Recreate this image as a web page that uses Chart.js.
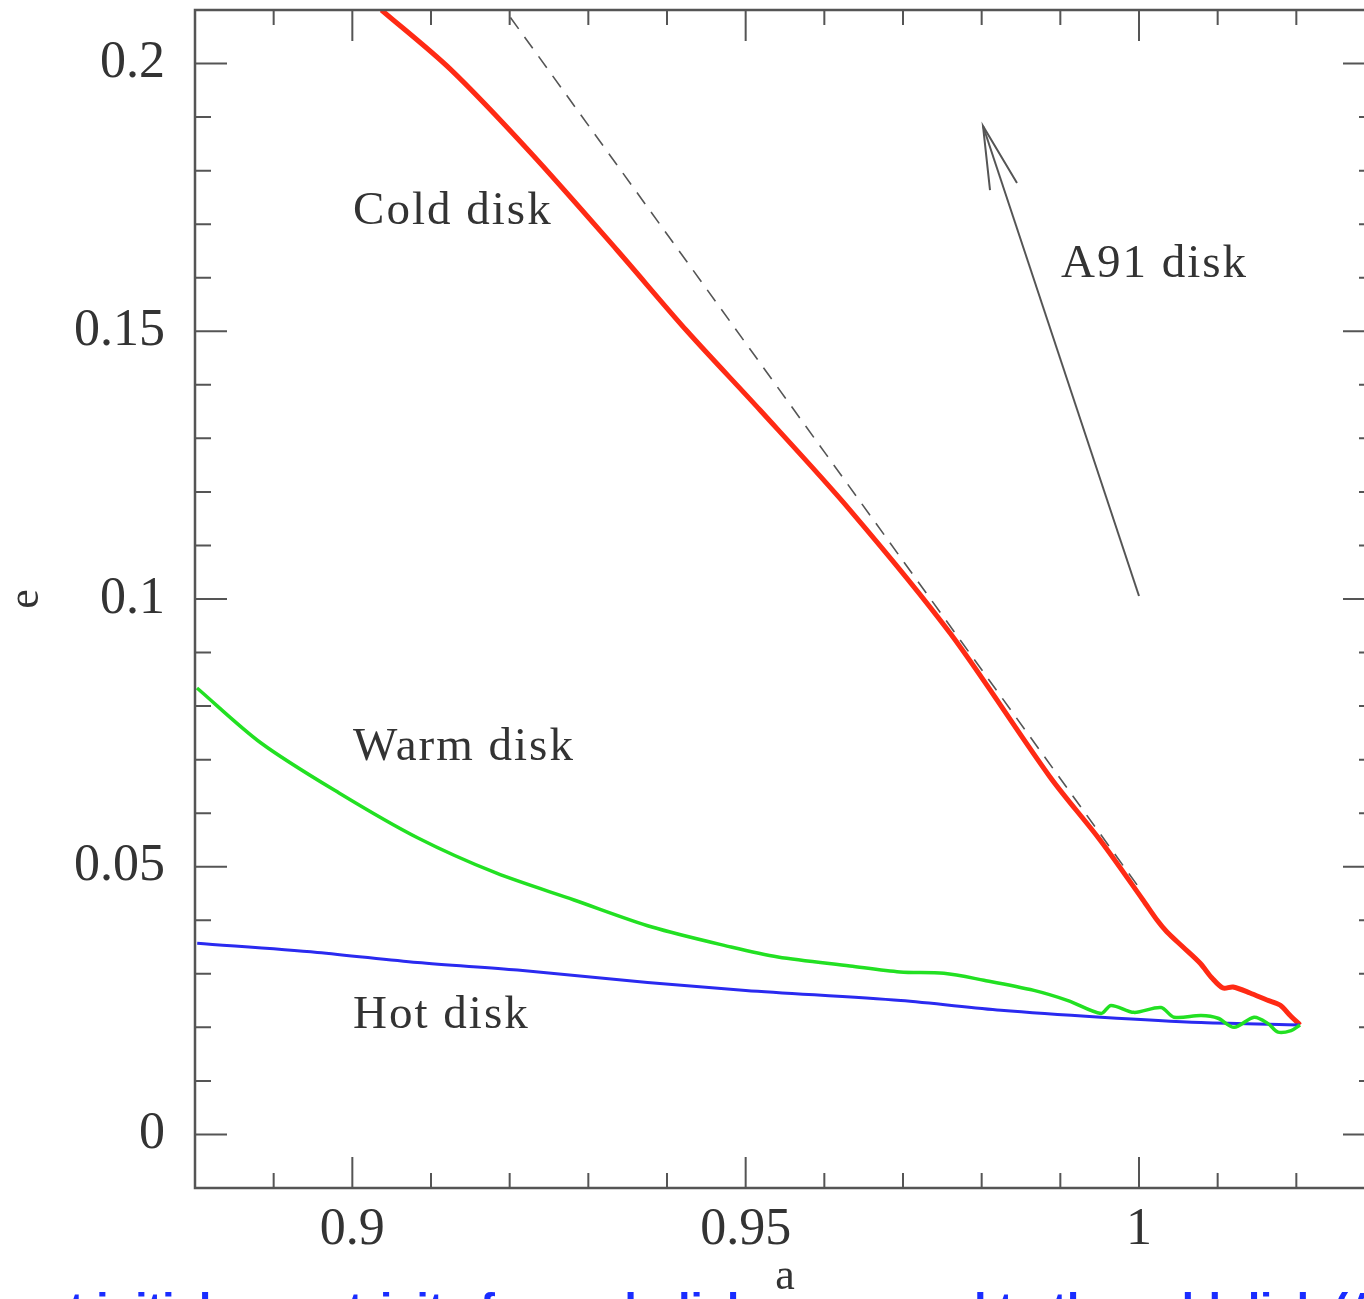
<!DOCTYPE html>
<html>
<head>
<meta charset="utf-8">
<script src="https://cdn.jsdelivr.net/npm/chart.js@4/dist/chart.umd.min.js"></script>
<style>
  html, body { margin: 0; padding: 0; background: #fff; overflow: hidden; width: 1364px; height: 1299px; }
  #wrap { position: absolute; left: 0; top: 0; width: 1400px; height: 1299px; }
  #caption { position: absolute; left: 18px; top: 1287px; white-space: nowrap; font-family: "Liberation Sans", Arial, sans-serif; font-weight: bold; font-size: 44px; line-height: 44px; color: #1a2cff; }
</style>
</head>
<body>
<div id="wrap"><canvas id="c" width="1400" height="1299"></canvas></div>
<div id="caption">ent initial eccentricity for each disk, compared to the cold disk (Artymowicz 1991) model</div>
<script>
// ---- Data ----
const coldA = [0.90370, 0.91242, 0.92258, 0.93364, 0.94254, 0.95182, 0.96326, 0.97598, 0.98869, 0.99505, 1.00051, 1.00229, 1.00356, 1.00559, 1.00775, 1.00928, 1.01068, 1.01195, 1.01411, 1.01627, 1.01792, 1.01919, 1.02047];
const coldE = [0.2100, 0.19900, 0.18348, 0.16518, 0.15005, 0.13530, 0.11662, 0.09365, 0.06676, 0.05499, 0.04379, 0.04005, 0.03781, 0.03501, 0.03202, 0.02922, 0.02735, 0.02754, 0.02642, 0.02511, 0.02418, 0.02226, 0.02045];

const warmA = [0.88025, 0.88839, 0.89831, 0.90835, 0.91826, 0.92818, 0.93809, 0.94814, 0.95411, 0.96326, 0.96962, 0.97519, 0.98028, 0.98664, 0.99097, 0.99517, 0.99644, 0.99936, 1.00280, 1.00445, 1.00789, 1.01005, 1.01209, 1.01463, 1.01641, 1.01768, 1.01934, 1.02047];
const warmE = [0.08338, 0.07311, 0.06377, 0.05536, 0.04883, 0.04379, 0.03874, 0.03501, 0.03314, 0.03146, 0.03034, 0.0301, 0.0288, 0.0269, 0.0250, 0.0226, 0.0241, 0.0228, 0.0237, 0.0219, 0.0222, 0.0217, 0.0200, 0.0219, 0.0207, 0.0191, 0.0194, 0.02045];

const hotA = [0.88028, 0.89555, 0.90827, 0.92099, 0.93753, 0.95000, 0.96972, 0.98244, 0.99517, 1.00789, 1.02047];
const hotE = [0.0357, 0.0340, 0.0321, 0.0307, 0.0284, 0.0269, 0.0250, 0.0232, 0.0219, 0.0209, 0.02045];

const a91A = [0.92010, 0.96018, 1.00025];
const a91E = [0.2086, 0.1271, 0.0456];

const arrowA = [1.00000, 0.98017];
const arrowE = [0.10056, 0.18834];
const arrowHeadA = [0.98106, 0.98017, 0.98449];
const arrowHeadE = [0.17638, 0.18834, 0.17769];

const xTickValues = [0.9, 0.95, 1];
const xTickLabels = ['0.9', '0.95', '1'];
const yTickValues = [0, 0.05, 0.1, 0.15, 0.2];
const yTickLabels = ['0', '0.05', '0.1', '0.15', '0.2'];

const curveLabels = [
  { text: 'Cold disk', a: 0.9001, e: 0.1723 },
  { text: 'Warm disk', a: 0.9001, e: 0.0723 },
  { text: 'Hot disk', a: 0.9001, e: 0.0222 },
  { text: 'A91 disk', a: 0.99008, e: 0.1624 }
];

const X_MIN = 0.88, X_MAX = 1.03, Y_MIN = -0.01, Y_MAX = 0.21;

function pts(xs, ys) { return xs.map((x, i) => ({ x: x, y: ys[i] })); }

const TICK_FONT = { family: 'Liberation Serif', size: 52 };
const AXIS_COLOR = '#555';

const framePlugin = {
  id: 'frame',
  afterDatasetsDraw(chart) {
    const ctx = chart.ctx;
    const xs = chart.scales.x, ys = chart.scales.y;
    const ca = chart.chartArea;
    ctx.save();
    ctx.fillStyle = '#333';
    ctx.font = '47px "Liberation Serif"';
    ctx.letterSpacing = '2px';
    ctx.textBaseline = 'middle';
    ctx.textAlign = 'left';
    curveLabels.forEach(l => {
      ctx.fillText(l.text, xs.getPixelForValue(l.a), ys.getPixelForValue(l.e));
    });
    ctx.letterSpacing = '0px';
    ctx.strokeStyle = AXIS_COLOR;
    ctx.lineWidth = 2.5;
    ctx.strokeRect(ca.left, ca.top, ca.right - ca.left, ca.bottom - ca.top);
    ctx.lineWidth = 2;
    ctx.beginPath();
    for (let i = 0; i <= 15; i++) {
      const v = Math.round((X_MIN + i * 0.01) * 1000) / 1000;
      const major = Math.abs(v * 20 - Math.round(v * 20)) < 1e-6;
      const len = major ? 31 : 15;
      const px = xs.getPixelForValue(v);
      ctx.moveTo(px, ca.bottom); ctx.lineTo(px, ca.bottom - len);
      ctx.moveTo(px, ca.top); ctx.lineTo(px, ca.top + len);
    }
    for (let i = 0; i <= 22; i++) {
      const v = Math.round((Y_MIN + i * 0.01) * 1000) / 1000;
      const major = Math.abs(v * 20 - Math.round(v * 20)) < 1e-6;
      const len = major ? 32 : 16;
      const py = ys.getPixelForValue(v);
      ctx.moveTo(ca.left, py); ctx.lineTo(ca.left + len, py);
      ctx.moveTo(ca.right, py); ctx.lineTo(ca.right - len, py);
    }
    ctx.stroke();
    ctx.restore();
  }
};

new Chart(document.getElementById('c'), {
  type: 'line',
  data: {
    datasets: [
      { data: pts(warmA, warmE), borderColor: '#22e022', borderWidth: 3.5, tension: 0.3, pointRadius: 0, fill: false },
      { data: pts(hotA, hotE), borderColor: '#2a2af0', borderWidth: 3, tension: 0.3, pointRadius: 0, fill: false },
      { data: pts(coldA, coldE), borderColor: '#ff2a14', borderWidth: 5, tension: 0.3, pointRadius: 0, fill: false },
      { data: pts(a91A, a91E), borderColor: '#555', borderWidth: 1.6, borderDash: [14, 10], tension: 0, pointRadius: 0, fill: false },
      { data: pts(arrowA, arrowE), borderColor: '#555', borderWidth: 2, tension: 0, pointRadius: 0, fill: false },
      { data: pts(arrowHeadA, arrowHeadE), borderColor: '#555', borderWidth: 2, tension: 0, pointRadius: 0, fill: false }
    ]
  },
  options: {
    responsive: false,
    animation: false,
    devicePixelRatio: 1,
    layout: { padding: { top: 10, right: 25, left: 0, bottom: 0 } },
    plugins: { legend: { display: false }, tooltip: { enabled: false } },
    scales: {
      x: {
        type: 'linear', position: 'bottom', min: X_MIN, max: X_MAX,
        grid: { display: false, drawTicks: false }, border: { display: false },
        afterBuildTicks: s => { s.ticks = xTickValues.map(v => ({ value: v })); },
        afterFit: s => { s.height = 111; s.paddingLeft = 0; s.paddingRight = 0; },
        ticks: { padding: 11, color: '#333', font: TICK_FONT, maxRotation: 0, autoSkip: false,
          callback: v => { const i = xTickValues.indexOf(v); return i >= 0 ? xTickLabels[i] : ''; } },
        title: { display: true, text: 'a', color: '#333', font: { family: 'Liberation Serif', size: 44, lineHeight: 1.0 }, padding: { top: 0, bottom: 0 } }
      },
      y: {
        type: 'linear', position: 'left', min: Y_MIN, max: Y_MAX,
        grid: { display: false, drawTicks: false }, border: { display: false },
        afterBuildTicks: s => { s.ticks = yTickValues.map(v => ({ value: v })); },
        afterFit: s => { s.width = 195; s.paddingTop = 0; s.paddingBottom = 0; },
        ticks: { padding: 30, color: '#333', font: TICK_FONT, autoSkip: false,
          callback: v => { const i = yTickValues.indexOf(v); return i >= 0 ? yTickLabels[i] : ''; } },
        title: { display: true, text: 'e', color: '#333', font: { family: 'Liberation Serif', size: 44, lineHeight: 1.2 }, padding: { top: 0, bottom: 0 } }
      }
    }
  },
  plugins: [framePlugin]
});
</script>
</body>
</html>
